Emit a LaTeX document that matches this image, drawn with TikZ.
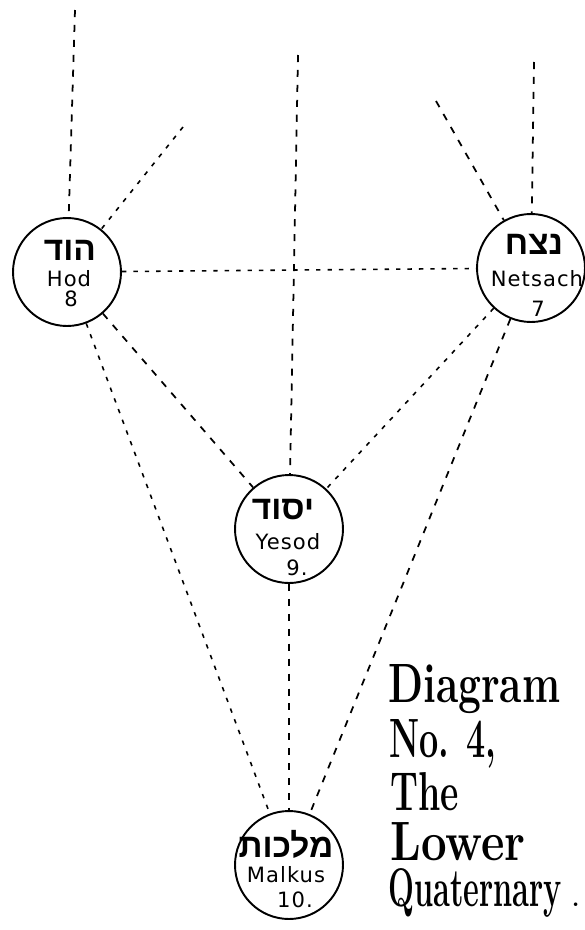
\documentclass[tikz,border=0pt]{standalone}
\usepackage{fontspec}
\newfontfamily\hebfont[Script=Hebrew]{Liberation Sans}
\newfontfamily\labelfont[LetterSpace=5]{DejaVu Sans}
\TeXXeTstate=1

\tikzset{
  sephira/.style={circle,draw,line width=1.1pt,minimum size=2.16cm,inner sep=0pt},
  channel/.style={line width=1pt,dash pattern=on 4pt off 4.5pt},
  finechannel/.style={line width=0.9pt,dash pattern=on 2.5pt off 4pt},
  hebname/.style={font=\hebfont\bfseries\fontsize{19}{19}\selectfont,inner sep=0pt},
  engname/.style={font=\labelfont\fontsize{12}{12}\selectfont,inner sep=0pt},
  title/.style={font=\bfseries\fontsize{28}{28}\selectfont,anchor=base west,inner sep=0pt}
}
% caption line squeezed into the reference width, cap height 0.76cm
\newcommand{\capline}[2]{\resizebox{#1}{0.76cm}{#2}}

\begin{document}
\begin{tikzpicture}[x=0.02cm,y=-0.02cm]
\useasboundingbox (0,0) rectangle (585,930);
% ---------- the four circles ----------
\node[sephira] (hod) at (67,272) {};
\node[sephira] (netsach) at (531,268) {};
\node[sephira] (yesod) at (289,529) {};
\node[sephira] (malkus) at (289,865) {};
% loose ends at the top
\coordinate (hodup) at (75,10);
\coordinate (hodslant) at (183,127);
\coordinate (middleup) at (298,55);
\coordinate (netsachup) at (534,62);
\coordinate (netsachslant) at (436,101);
% ---------- paths ----------
\draw[channel] (hodup) -- (hod);
\draw[finechannel] (hodslant) -- (hod);
\draw[channel] (middleup) -- (yesod);
\draw[channel] (netsachup) -- (netsach);
\draw[channel] (netsachslant) -- (netsach);
\draw[finechannel] (hod) -- (netsach);
\draw[channel] (hod) -- (yesod);
\draw[finechannel] (netsach) -- (yesod);
\draw[channel] (yesod) -- (malkus);
\draw[finechannel] (hod) -- (malkus);
\draw[channel] (netsach) -- (malkus);
% ---------- names in the circles ----------
\node[hebname] (hodheb) at (70,250) {\beginR הוד\endR};
\node[engname] (hodname) at (69,279) {Hod};
\node[engname] (hodnum) at (71,299) {8};
\node[hebname] (netsachheb) at (534,244) {\beginR נצח\endR};
\node[engname] (netsachname) at (537,279) {Netsach};
\node[engname] (netsachnum) at (538,309) {7};
\node[hebname] (yesodheb) at (283,510) {\beginR יסוד\endR};
\node[engname] (yesodname) at (288,542) {Yesod};
\node[engname] (yesodnum) at (297,568) {9.};
\node[hebname] (malkusheb) at (286,844) {\beginR מלכות\endR};
\node[engname] (malkusname) at (286,875) {Malkus};
\node[engname] (malkusnum) at (295,900) {10.};
% ---------- caption ----------
\node[title] (capdiagram) at (388,702) {\capline{3.44cm}{Diagram}};
\node[title] (capno) at (389,757) {\capline{2.14cm}{No. 4,}};
\node[title] (capthe) at (390,810) {\capline{1.37cm}{The}};
\node[title] (caplower) at (390,860) {\capline{2.7cm}{Lower}};
\node[title] (capquat) at (388,906) {\capline{3.47cm}{Quaternary}\hspace{0.2cm}\fontsize{14}{14}\selectfont.};
\end{tikzpicture}
\end{document}
